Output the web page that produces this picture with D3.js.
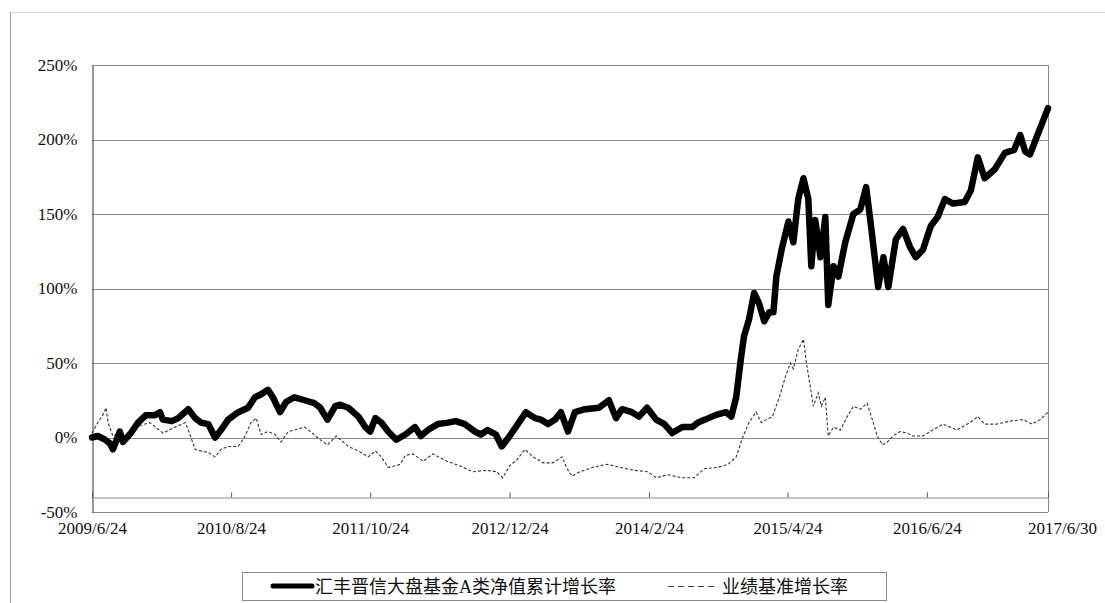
<!DOCTYPE html>
<html>
<head>
<meta charset="utf-8">
<script src="https://cdn.jsdelivr.net/npm/d3@7"></script>
<style>
  html, body { margin: 0; padding: 0; background: #fff; }
  svg { display: block; }
</style>
</head>
<body>
<svg id="chart" width="1105" height="603"></svg>
<script>
// ---------- DATA ----------
const fundDates = ["2009-06-24","2009-07-12","2009-08-03","2009-08-18","2009-08-27","2009-09-05","2009-09-17","2009-09-27","2009-10-21","2009-11-12","2009-12-06","2010-01-03","2010-01-18","2010-01-27","2010-02-24","2010-03-15","2010-04-15","2010-05-06","2010-05-24","2010-06-15","2010-07-06","2010-07-24","2010-08-15","2010-09-15","2010-10-15","2010-11-05","2010-11-24","2010-12-15","2010-12-30","2011-01-21","2011-02-09","2011-03-06","2011-04-06","2011-05-06","2011-05-24","2011-06-15","2011-07-09","2011-07-24","2011-08-18","2011-09-18","2011-10-09","2011-10-24","2011-11-09","2011-11-27","2011-12-18","2012-01-12","2012-02-09","2012-03-09","2012-03-27","2012-04-18","2012-05-18","2012-06-18","2012-07-12","2012-08-09","2012-09-09","2012-09-27","2012-10-18","2012-11-12","2012-11-30","2012-12-21","2013-01-12","2013-02-12","2013-03-12","2013-03-30","2013-04-21","2013-05-12","2013-05-30","2013-06-21","2013-07-12","2013-08-12","2013-09-24","2013-10-24","2013-11-15","2013-12-03","2014-01-03","2014-01-24","2014-02-18","2014-03-18","2014-04-12","2014-05-06","2014-06-06","2014-07-06","2014-07-24","2014-08-15","2014-09-15","2014-10-18","2014-11-03","2014-11-18","2014-12-03","2014-12-12","2014-12-27","2015-01-12","2015-01-27","2015-02-12","2015-02-27","2015-03-12","2015-03-21","2015-04-06","2015-04-27","2015-05-12","2015-05-27","2015-06-12","2015-06-27","2015-07-06","2015-07-18","2015-08-03","2015-08-18","2015-08-27","2015-09-12","2015-09-27","2015-10-18","2015-11-12","2015-12-03","2015-12-21","2016-01-06","2016-01-27","2016-02-12","2016-02-27","2016-03-21","2016-04-12","2016-05-03","2016-05-21","2016-06-12","2016-07-06","2016-07-27","2016-08-18","2016-09-12","2016-10-18","2016-11-06","2016-11-27","2016-12-18","2017-01-18","2017-02-18","2017-03-18","2017-04-06","2017-04-21","2017-05-06","2017-05-27","2017-06-12","2017-06-30"];
const fundValues = [0,1,-1.5,-4,-8,-3,4,-3,3,10,15,15,17,12,11,13,19,13,10,9,0,5,12,17,20,27,29,32,27,17,24,27,25,23,20,12,21,22,20,14,7,4,13,10,4,-1.5,2,7,1,5,9,10,11,9,4,2,5,2,-6,0,7,17,13,12,9,12,17,4,17,19,20,25,13,19,17,14,20,12,9,3,7,7,10,12,15,17,14,27,54,68,79,97,90,78,84,84,108,126,145,131,160,174,160,115,146,121,148,89,115,108,131,150,153,168,140,101,121,101,133,140,128,121,126,142,148,160,157,158,166,188,174,180,191,193,203,192,190,202,211,221];

const benchDates = ["2009-06-24","2009-07-12","2009-07-27","2009-08-06","2009-08-12","2009-08-27","2009-09-12","2009-09-30","2009-10-21","2009-11-18","2009-12-18","2010-01-27","2010-03-06","2010-04-06","2010-04-15","2010-05-06","2010-05-24","2010-06-15","2010-07-06","2010-07-24","2010-08-15","2010-09-15","2010-10-06","2010-10-24","2010-11-09","2010-11-24","2010-12-15","2011-01-06","2011-01-24","2011-02-15","2011-03-06","2011-04-06","2011-04-24","2011-05-15","2011-06-15","2011-07-12","2011-08-18","2011-09-18","2011-10-18","2011-11-09","2011-11-27","2011-12-18","2012-01-09","2012-01-24","2012-02-09","2012-03-03","2012-04-03","2012-05-03","2012-06-15","2012-07-24","2012-09-03","2012-10-15","2012-11-15","2012-12-03","2012-12-24","2013-01-15","2013-02-09","2013-03-06","2013-04-06","2013-05-06","2013-06-03","2013-06-18","2013-07-03","2013-07-27","2013-09-06","2013-10-18","2013-11-27","2014-01-09","2014-02-21","2014-03-18","2014-04-24","2014-06-03","2014-07-12","2014-08-12","2014-09-24","2014-10-24","2014-11-18","2014-12-06","2014-12-27","2015-01-18","2015-02-03","2015-02-18","2015-03-09","2015-03-30","2015-04-18","2015-05-03","2015-05-12","2015-05-27","2015-06-12","2015-06-21","2015-07-03","2015-07-12","2015-07-27","2015-08-06","2015-08-18","2015-08-27","2015-09-12","2015-10-03","2015-10-24","2015-11-12","2015-12-03","2015-12-24","2016-01-09","2016-01-24","2016-02-09","2016-02-24","2016-03-12","2016-04-03","2016-04-24","2016-05-12","2016-06-12","2016-07-12","2016-08-12","2016-09-24","2016-11-03","2016-11-27","2016-12-18","2017-01-24","2017-03-06","2017-04-15","2017-05-12","2017-06-06","2017-06-30"];
const benchValues = [3,10,15,20,10,1,3,-2,2,8,10,3,7,10,5,-8,-9,-10,-13,-8,-6,-6,1,10,13,2,4,2,-3,4,5,7,4,0,-5,1,-6,-9,-13,-9,-13,-20,-19,-18,-12,-11,-16,-11,-16,-19,-23,-22,-23,-27,-19,-15,-8,-13,-17,-17,-13,-21,-26,-23,-20,-18,-20,-22,-23,-27,-25,-27,-27,-21,-20,-18,-13,-1,10,17,10,12,14,27,41,50,46,59,66,50,34,21,30,21,27,1,7,5,14,21,19,23,12,1,-5,-3,1,4,3,1,1,5,9,5,10,14,9,9,11,12,9,12,17];

const xTickLabels = ["2009/6/24","2010/8/24","2011/10/24","2012/12/24","2014/2/24","2015/4/24","2016/6/24","2017/6/30"];
const yTickValues = [-50,0,50,100,150,200,250];
const seriesNames = ["汇丰晋信大盘基金A类净值累计增长率","业绩基准增长率"];

// ---------- CHART ----------
const parse = d3.timeParse("%Y-%m-%d");
const parseLabel = d3.timeParse("%Y/%m/%d");
const fund = fundDates.map((d,i) => ({date: parse(d), value: fundValues[i]}));
const bench = benchDates.map((d,i) => ({date: parse(d), value: benchValues[i]}));
const tickDates = xTickLabels.map(parseLabel);

const svg = d3.select("#chart");
const L = 92, R = 1048, T = 65, B = 512;

const x = d3.scaleTime().domain([tickDates[0], tickDates[tickDates.length-1]]).range([L, R]);
const y = d3.scaleLinear().domain([-50, 250]).range([B, T]);

// outer frame lines
svg.append("line").attr("x1",10).attr("x2",1105).attr("y1",12.5).attr("y2",12.5)
  .attr("stroke","#d8d8d8").attr("stroke-width",1);
svg.append("line").attr("x1",10.5).attr("x2",10.5).attr("y1",12).attr("y2",603)
  .attr("stroke","#a0a0a0").attr("stroke-width",1);

// gridlines
svg.append("g").selectAll("line").data(yTickValues).join("line")
  .attr("x1",L).attr("x2",R)
  .attr("y1",d => Math.round(y(d))+0.5).attr("y2",d => Math.round(y(d))+0.5)
  .attr("stroke","#8a8a8a").attr("stroke-width",1);

// plot border
svg.append("line").attr("x1",R+0.5).attr("x2",R+0.5).attr("y1",T).attr("y2",B)
  .attr("stroke","#8a8a8a");

// y axis
const yAxis = d3.axisLeft(y).tickValues(yTickValues).tickFormat(d => d + "%")
  .tickSize(0).tickPadding(15);
const gy = svg.append("g").attr("transform",`translate(${L+0.5},0)`).call(yAxis);
gy.select(".domain").attr("stroke","#333");
gy.selectAll("text").attr("font-family","'Liberation Serif', 'Times New Roman', serif")
  .attr("font-size",17).attr("fill","#111");

// x axis (crossing at -40%)
const xAxis = d3.axisBottom(x).tickValues(tickDates).tickFormat((d,i) => xTickLabels[i])
  .tickSizeInner(-5).tickSizeOuter(0).tickPadding(24);
const gx = svg.append("g").attr("transform",`translate(0,${Math.round(y(-40))+0.5})`).call(xAxis);
gx.select(".domain").attr("stroke","#8a8a8a");
gx.selectAll(".tick line").attr("stroke","#555");
gx.selectAll("text").attr("font-family","'Liberation Serif', 'Times New Roman', serif")
  .attr("font-size",17).attr("fill","#111");
gx.selectAll(".tick").filter((d,i) => i === xTickLabels.length-1)
  .select("text").attr("dx", 14);

// lines
const line = d3.line().x(d => x(d.date)).y(d => y(d.value));
svg.append("path").datum(bench).attr("d",line)
  .attr("fill","none").attr("stroke","#333").attr("stroke-width",1.1)
  .attr("stroke-dasharray","3,2");
svg.append("path").datum(fund).attr("d",line)
  .attr("fill","none").attr("stroke","#000").attr("stroke-width",6.5)
  .attr("stroke-linejoin","round").attr("stroke-linecap","round");

// legend
const lg = svg.append("g");
lg.append("rect").attr("x",242.5).attr("y",572.5).attr("width",644).attr("height",28)
  .attr("fill","#fff").attr("stroke","#8a8a8a");
lg.append("line").attr("x1",273).attr("x2",312).attr("y1",586).attr("y2",586)
  .attr("stroke","#000").attr("stroke-width",5).attr("stroke-linecap","round");
lg.append("text").attr("x",315).attr("y",593).text(seriesNames[0])
  .attr("font-family","'Liberation Serif', 'Noto Sans CJK SC', serif").attr("font-size",18).attr("fill","#111");
lg.append("line").attr("x1",668).attr("x2",718).attr("y1",586.5).attr("y2",586.5)
  .attr("stroke","#3a3a3a").attr("stroke-width",1).attr("stroke-dasharray","6,4");
lg.append("text").attr("x",722).attr("y",593).text(seriesNames[1])
  .attr("font-family","'Noto Sans CJK SC', sans-serif").attr("font-size",18).attr("fill","#111");
</script>
</body>
</html>
